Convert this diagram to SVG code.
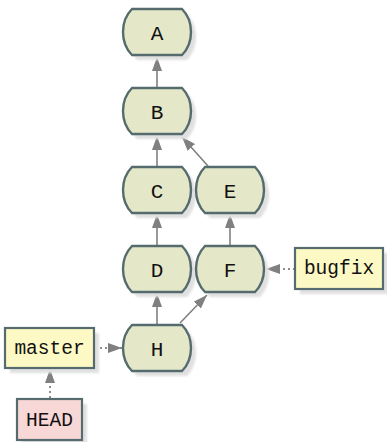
<svg xmlns="http://www.w3.org/2000/svg" xmlns:xlink="http://www.w3.org/1999/xlink" width="387" height="442" viewBox="0 0 387 442">
<style>
  .node { fill: #e5e8c8; stroke: #566b6e; stroke-width: 2.4; }
  .shadow { fill: #e0e0e0; stroke: none; filter: url(#blur); }
  .ref { fill: #fdf9c4; stroke: #566b6e; stroke-width: 2.2; }
  .head { fill: #f8d7d7; stroke: #566b6e; stroke-width: 2.2; }
  .lbl { font-family: "Liberation Mono", "DejaVu Sans Mono", monospace; font-size: 19.5px; fill: #111; text-anchor: middle; }
  .big { font-size: 21px; }
  .edge { stroke: #808080; stroke-width: 1.6; fill: none; marker-end: url(#arr); }
  .dot { stroke: #8c8c8c; stroke-width: 2; fill: none; stroke-dasharray: 2 3; marker-end: url(#arr); }
</style>
<defs>
  <filter id="blur" x="-20%" y="-20%" width="140%" height="140%">
    <feGaussianBlur stdDeviation="0.8"/>
  </filter>
  <path id="ns" d="M-25,-23 H25 C31,-17 34,-8 34,0 C34,8 31,17 25,23 H-25 C-31,17 -34,8 -34,0 C-34,-8 -31,-17 -25,-23 Z"/>
  <marker id="arr" markerUnits="userSpaceOnUse" markerWidth="14" markerHeight="10" viewBox="0 0 14 10" refX="14" refY="5" orient="auto">
    <path d="M0,0 L14,5 L0,10 Z" fill="#808080"/>
  </marker>
</defs>

<g id="connectors">
  <line class="edge" x1="157" y1="87" x2="157" y2="57"/>
  <line class="edge" x1="157" y1="166" x2="157" y2="136"/>
  <line class="edge" x1="208" y1="166" x2="182" y2="137"/>
  <line class="edge" x1="157" y1="245" x2="157" y2="214"/>
  <line class="edge" x1="230" y1="245" x2="230" y2="214"/>
  <line class="edge" x1="157" y1="324" x2="157" y2="293"/>
  <line class="edge" x1="180" y1="323" x2="207" y2="295"/>
  <line class="dot" x1="295" y1="269" x2="266" y2="269"/>
  <line class="dot" x1="95" y1="348" x2="122" y2="348"/>
  <line class="dot" x1="50" y1="398" x2="50" y2="369"/>
</g>

<g id="node-A">
  <use class="shadow" href="#ns" x="162" y="37"/>
  <use class="node" href="#ns" x="157" y="32"/>
  <text class="lbl big" x="157" y="39.5">A</text>
</g>
<g id="node-B">
  <use class="shadow" href="#ns" x="162" y="116"/>
  <use class="node" href="#ns" x="157" y="111"/>
  <text class="lbl big" x="157" y="118.5">B</text>
</g>
<g id="node-C">
  <use class="shadow" href="#ns" x="162" y="195"/>
  <use class="node" href="#ns" x="157" y="190"/>
  <text class="lbl big" x="157" y="197.5">C</text>
</g>
<g id="node-E">
  <use class="shadow" href="#ns" x="235" y="195"/>
  <use class="node" href="#ns" x="230" y="190"/>
  <text class="lbl big" x="230" y="197.5">E</text>
</g>
<g id="node-D">
  <use class="shadow" href="#ns" x="162" y="274"/>
  <use class="node" href="#ns" x="157" y="269"/>
  <text class="lbl big" x="157" y="276.5">D</text>
</g>
<g id="node-F">
  <use class="shadow" href="#ns" x="235" y="274"/>
  <use class="node" href="#ns" x="230" y="269"/>
  <text class="lbl big" x="230" y="276.5">F</text>
</g>
<g id="node-H">
  <use class="shadow" href="#ns" x="162" y="353"/>
  <use class="node" href="#ns" x="157" y="348"/>
  <text class="lbl big" x="157" y="355.5">H</text>
</g>

<g id="ref-bugfix">
  <rect class="shadow" x="300" y="253" width="88" height="41"/>
  <rect class="ref" x="295" y="248" width="88" height="41"/>
  <text class="lbl" x="339" y="274">bugfix</text>
</g>
<g id="ref-master">
  <rect class="shadow" x="10" y="333" width="89" height="40"/>
  <rect class="ref" x="5" y="328" width="89" height="40"/>
  <text class="lbl" x="49.5" y="354">master</text>
</g>
<g id="ref-HEAD">
  <rect class="shadow" x="22" y="404" width="65" height="41"/>
  <rect class="head" x="17" y="399" width="65" height="41"/>
  <text class="lbl" x="49.5" y="426">HEAD</text>
</g>
</svg>
